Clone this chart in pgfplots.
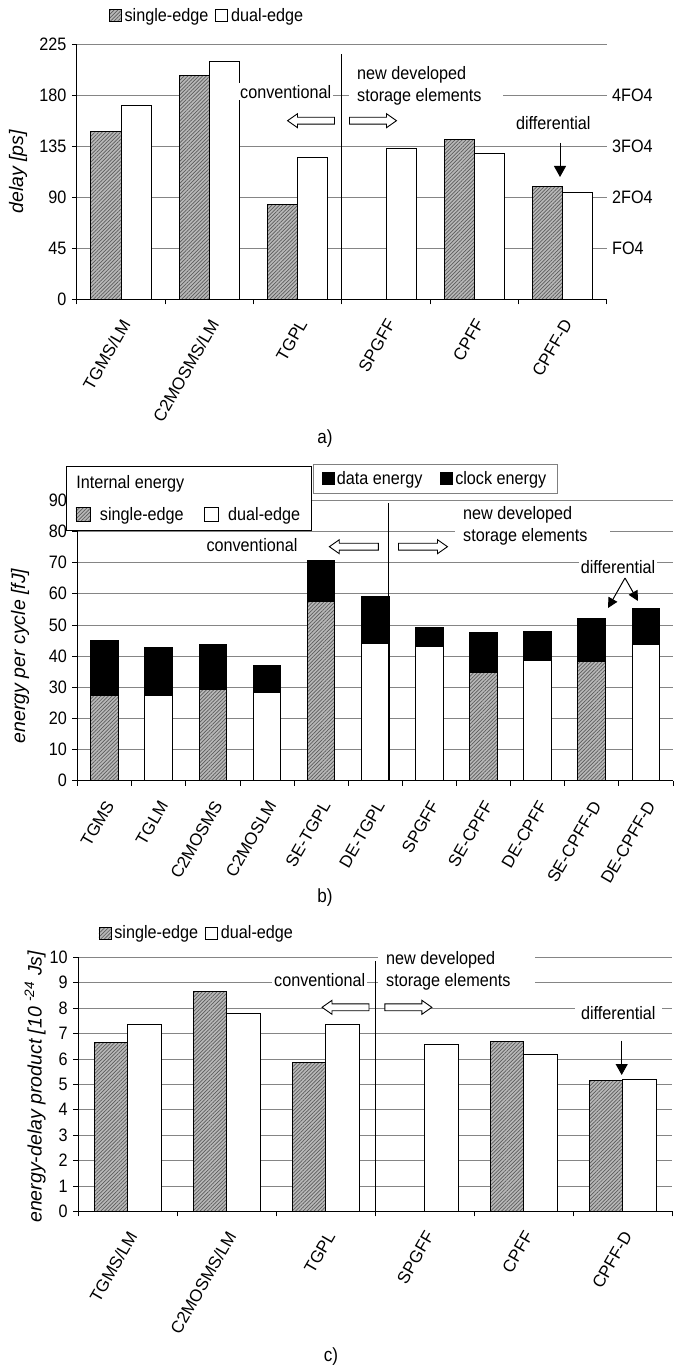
\documentclass[border=0pt]{standalone}
\usepackage{fontspec}
\setmainfont{Liberation Sans}[FakeStretch=0.9]
\newfontfamily\rotfont{Liberation Sans}
\usepackage{pgfplots}
\pgfplotsset{compat=1.18}
\usetikzlibrary{shapes.arrows,arrows.meta,patterns.meta}

\definecolor{hatch}{gray}{0.72}
\definecolor{hatchline}{gray}{0.36}
\definecolor{gridline}{gray}{0.52}

\newcommand{\lbl}{\fontsize{18}{21}\selectfont}
\newcommand{\twoline}{\fontsize{18}{22}\selectfont}
\newcommand{\xlbl}{\rotfont\fontsize{17}{19}\selectfont}
\newcommand{\ylbl}{\rotfont\fontsize{19.5}{22}\selectfont\itshape}

\pgfplotsset{
  panel/.style={
    scale only axis,
    axis x line*=bottom, axis y line*=left,
    axis line style={-, black, line width=0.8pt},
    ymajorgrids, grid style={gridline, line width=0.8pt},
    tick align=outside,
    major tick length=0pt,
    minor tick length=5pt,
    tick style={black, line width=0.8pt},
    yticklabel style={font=\lbl, xshift=-7pt},
    xticklabel style={font=\xlbl, xshift=6.8pt, yshift=-18.7pt, rotate=60, anchor=east},
    /pgf/number format/assume math mode=true,
  },
  hatched/.style={fill=hatch,
    postaction={pattern={Lines[angle=45, distance=2.6pt, line width=0.7pt]}, pattern color=hatchline}},
  se/.style={ybar, hatched, draw=black, line width=1pt},
  de/.style={ybar, fill=white, draw=black, line width=1pt},
  blk/.style={ybar, fill=black, draw=black, line width=1pt},
}

\tikzset{
  hollow/.style={single arrow, draw=black, fill=white, line width=0.9pt,
    minimum height=47pt, minimum width=13pt, single arrow head extend=3.5pt,
    single arrow tip angle=70, inner sep=3pt},
  note/.style={font=\lbl, fill=white, inner sep=2pt},
  twonote/.style={font=\twoline, fill=white, anchor=west, align=left, inner xsep=8pt, inner ysep=1pt},
  divider/.style={black, line width=0.8pt},
  pointer/.style={line width=1pt, -{Triangle[width=12pt,length=11pt]}},
}

\begin{document}
\begin{tikzpicture}[x=1pt,y=1pt]
\useasboundingbox (0pt,0pt) rectangle (673pt,-1367pt);

% ---------------- (a) delay ----------------
\begin{axis}[panel,
  at={(76.85pt,-299.3pt)}, anchor=south west, width=530pt, height=255pt,
  xmin=-0.5, xmax=5.5, ymin=0, ymax=225,
  ytick={0,45,...,225}, minor ytick={0,45,...,225},
  xtick={0,...,5}, minor xtick={-0.5,0.5,...,5.5},
  xticklabels={TGMS/LM,C2MOSMS/LM,TGPL,SPGFF,CPFF,CPFF-D},
  ylabel={delay [ps]},
  ylabel style={at={(axis description cs:-0.111,0.5)}, anchor=center, font=\ylbl},
  legend columns=-1,
  legend style={at={(axis description cs:0.06,1.112)}, anchor=west, draw=none, fill=none,
    font=\lbl, inner sep=0pt,
    /tikz/every odd column/.append style={column sep=1pt},
    /tikz/every even column/.append style={column sep=5pt}},
  legend image code/.code={\draw[#1,line width=0.8pt] (0pt,-6pt) rectangle (12pt,6pt);},
]
\addplot[se, bar width=0.34, bar shift=-0.17, forget plot]
  coordinates {(0,148) (1,197.6) (2,83.5) (4,140.8) (5,99.6)};
\addplot[de, bar width=0.34, bar shift=0.17, forget plot]
  coordinates {(0,170.6) (1,209.8) (2,124.8) (3,132.9) (4,128.5) (5,94.6)};
\draw[divider] (axis cs:2.5,0) -- (axis cs:2.5,216.5);
\addlegendimage{hatched, draw=black}\addlegendentry{single-edge}
\addlegendimage{fill=white, draw=black}\addlegendentry{dual-edge}
\end{axis}

\node[note] at (285.7pt,-91.7pt) {conventional};
\node[twonote] at (349pt,-86pt) {new developed\\storage elements\hspace*{14pt}};
\node[hollow, shape border rotate=180] at (313.5pt,-120.7pt) {};
\node[hollow] at (370.5pt,-120.7pt) {};
\node[note] at (553.3pt,-123pt) {differential};
\draw[pointer] (560pt,-143pt) -- (560pt,-177pt);
\node[font=\lbl, anchor=west, inner sep=0pt] at (612pt,-248.3pt) {FO4};
\node[font=\lbl, anchor=west, inner sep=0pt] at (612pt,-197.3pt) {2FO4};
\node[font=\lbl, anchor=west, inner sep=0pt] at (612pt,-146.3pt) {3FO4};
\node[font=\lbl, anchor=west, inner sep=0pt] at (612pt,-95.3pt) {4FO4};
\node[font=\fontsize{19}{21}\selectfont] at (325pt,-439pt) {a)};

% ---------------- (b) energy per cycle ----------------
\begin{axis}[panel,
  at={(77.5pt,-780.7pt)}, anchor=south west, width=595.5pt, height=280.4pt,
  xmin=-0.5, xmax=10.5, ymin=0, ymax=90,
  ytick={0,10,...,90}, minor ytick={0,10,...,90},
  xtick={0,...,10}, minor xtick={-0.5,0.5,...,10.5},
  xticklabels={TGMS,TGLM,C2MOSMS,C2MOSLM,SE-TGPL,DE-TGPL,SPGFF,SE-CPFF,DE-CPFF,SE-CPFF-D,DE-CPFF-D},
  ylabel={energy per cycle [fJ]},
  ylabel style={at={(axis description cs:-0.0966,0.445)}, anchor=center, font=\ylbl},
  legend columns=2,
  legend style={at={(axis description cs:-0.0193,1.1223)}, anchor=north west,
    draw=black, line width=1pt, fill=white, font=\lbl, inner xsep=9pt, inner ysep=7pt,
    row sep=13pt,
    /tikz/every odd column/.append style={column sep=7pt},
    /tikz/every even column/.append style={column sep=18pt}},
  legend image code/.code={\draw[#1,line width=0.8pt] (0pt,-7pt) rectangle (14pt,7pt);},
]
% total energy (black), internal energy drawn over it
\addplot[blk, bar width=0.51, forget plot]
  coordinates {(0,45.0) (1,42.9) (2,43.8) (3,37.1) (4,70.6) (5,59.1) (6,49.3) (7,47.6) (8,48.0) (9,52.2) (10,55.2)};
\addplot[se, bar width=0.51, forget plot]
  coordinates {(0,27.5) (2,29.3) (4,57.5) (7,34.8) (9,38.2)};
\addplot[de, bar width=0.51, forget plot]
  coordinates {(1,27.5) (3,28.3) (5,44.2) (6,43.1) (8,38.6) (10,43.6)};
\draw[divider] (axis cs:5.24,0) -- (axis cs:5.24,89.1);
\addlegendimage{empty legend}\addlegendentry{\hspace*{-23pt}Internal energy}
\addlegendimage{empty legend}\addlegendentry{}
\addlegendimage{hatched, draw=black}\addlegendentry{single-edge}
\addlegendimage{fill=white, draw=black}\addlegendentry{dual-edge}
\end{axis}

% second legend of panel (b)
\begin{axis}[scale only axis, hide axis,
  at={(77.5pt,-780.7pt)}, anchor=south west, width=595.5pt, height=280.4pt,
  xmin=-0.5, xmax=10.5, ymin=0, ymax=90,
  legend columns=-1,
  legend style={at={(axis description cs:0.395,1.1295)}, anchor=north west,
    draw=gray, line width=0.8pt, fill=white, font=\lbl, inner xsep=9pt, inner ysep=5pt,
    /tikz/every odd column/.append style={column sep=0pt},
    /tikz/every even column/.append style={column sep=16pt}},
  legend image code/.code={\fill[#1] (0pt,-6pt) rectangle (12pt,6pt);},
]
\addplot[draw=none, forget plot] coordinates {(0,0)};
\addlegendimage{fill=black}\addlegendentry{data energy}
\addlegendimage{fill=black}\addlegendentry{clock energy}
\end{axis}

\node[note] at (252pt,-545pt) {conventional};
\node[twonote] at (455pt,-526pt) {new developed\\storage elements\hspace*{15pt}};
\node[hollow, minimum height=49pt, shape border rotate=180] at (356.3pt,-546.7pt) {};
\node[hollow, minimum height=49pt] at (420.5pt,-546.7pt) {};
\node[note] at (618pt,-566.7pt) {differential};
\draw[pointer, -{Triangle[width=10pt,length=10pt]}] (625pt,-578pt) -- (608pt,-608pt);
\draw[pointer, -{Triangle[width=10pt,length=10pt]}] (625pt,-578pt) -- (638pt,-601pt);
\node[font=\fontsize{19}{21}\selectfont] at (325pt,-898pt) {b)};

% ---------------- (c) energy-delay product ----------------
\begin{axis}[panel,
  at={(78.2pt,-1211.3pt)}, anchor=south west, width=594pt, height=254pt,
  xmin=-0.5, xmax=5.5, ymin=0, ymax=10,
  ytick={0,1,...,10}, minor ytick={0,1,...,10},
  xtick={0,...,5}, minor xtick={-0.5,0.5,...,5.5},
  xticklabels={TGMS/LM,C2MOSMS/LM,TGPL,SPGFF,CPFF,CPFF-D},
  ylabel={energy-delay product [10 \textsuperscript{-24} Js]},
  ylabel style={at={(axis description cs:-0.0727,0.49)}, anchor=center, font=\ylbl},
  legend columns=-1,
  legend style={at={(axis description cs:0.034,1.0957)}, anchor=west, draw=none, fill=none,
    font=\lbl, inner sep=0pt,
    /tikz/every odd column/.append style={column sep=1pt},
    /tikz/every even column/.append style={column sep=5pt}},
  legend image code/.code={\draw[#1,line width=0.8pt] (0pt,-6pt) rectangle (12pt,6pt);},
]
\addplot[se, bar width=0.338, bar shift=-0.169, forget plot]
  coordinates {(0,6.65) (1,8.65) (2,5.87) (4,6.69) (5,5.16)};
\addplot[de, bar width=0.338, bar shift=0.169, forget plot]
  coordinates {(0,7.37) (1,7.80) (2,7.37) (3,6.55) (4,6.19) (5,5.20)};
\draw[divider] (axis cs:2.5,0) -- (axis cs:2.5,9.87);
\addlegendimage{hatched, draw=black}\addlegendentry{single-edge}
\addlegendimage{fill=white, draw=black}\addlegendentry{dual-edge}
\end{axis}

\node[note] at (319.7pt,-980pt) {conventional};
\node[twonote, inner ysep=3pt] at (378pt,-971pt) {new developed\\storage elements\hspace*{17pt}};
\node[hollow, shape border rotate=180] at (348pt,-1007.3pt) {};
\node[hollow] at (405.9pt,-1007.3pt) {};
\node[note, inner xsep=6pt] at (618.3pt,-1013.3pt) {differential};
\draw[pointer] (621.7pt,-1040.7pt) -- (621.7pt,-1075pt);
\node[font=\fontsize{19}{21}\selectfont] at (331pt,-1356.7pt) {c)};
\end{tikzpicture}
\end{document}
